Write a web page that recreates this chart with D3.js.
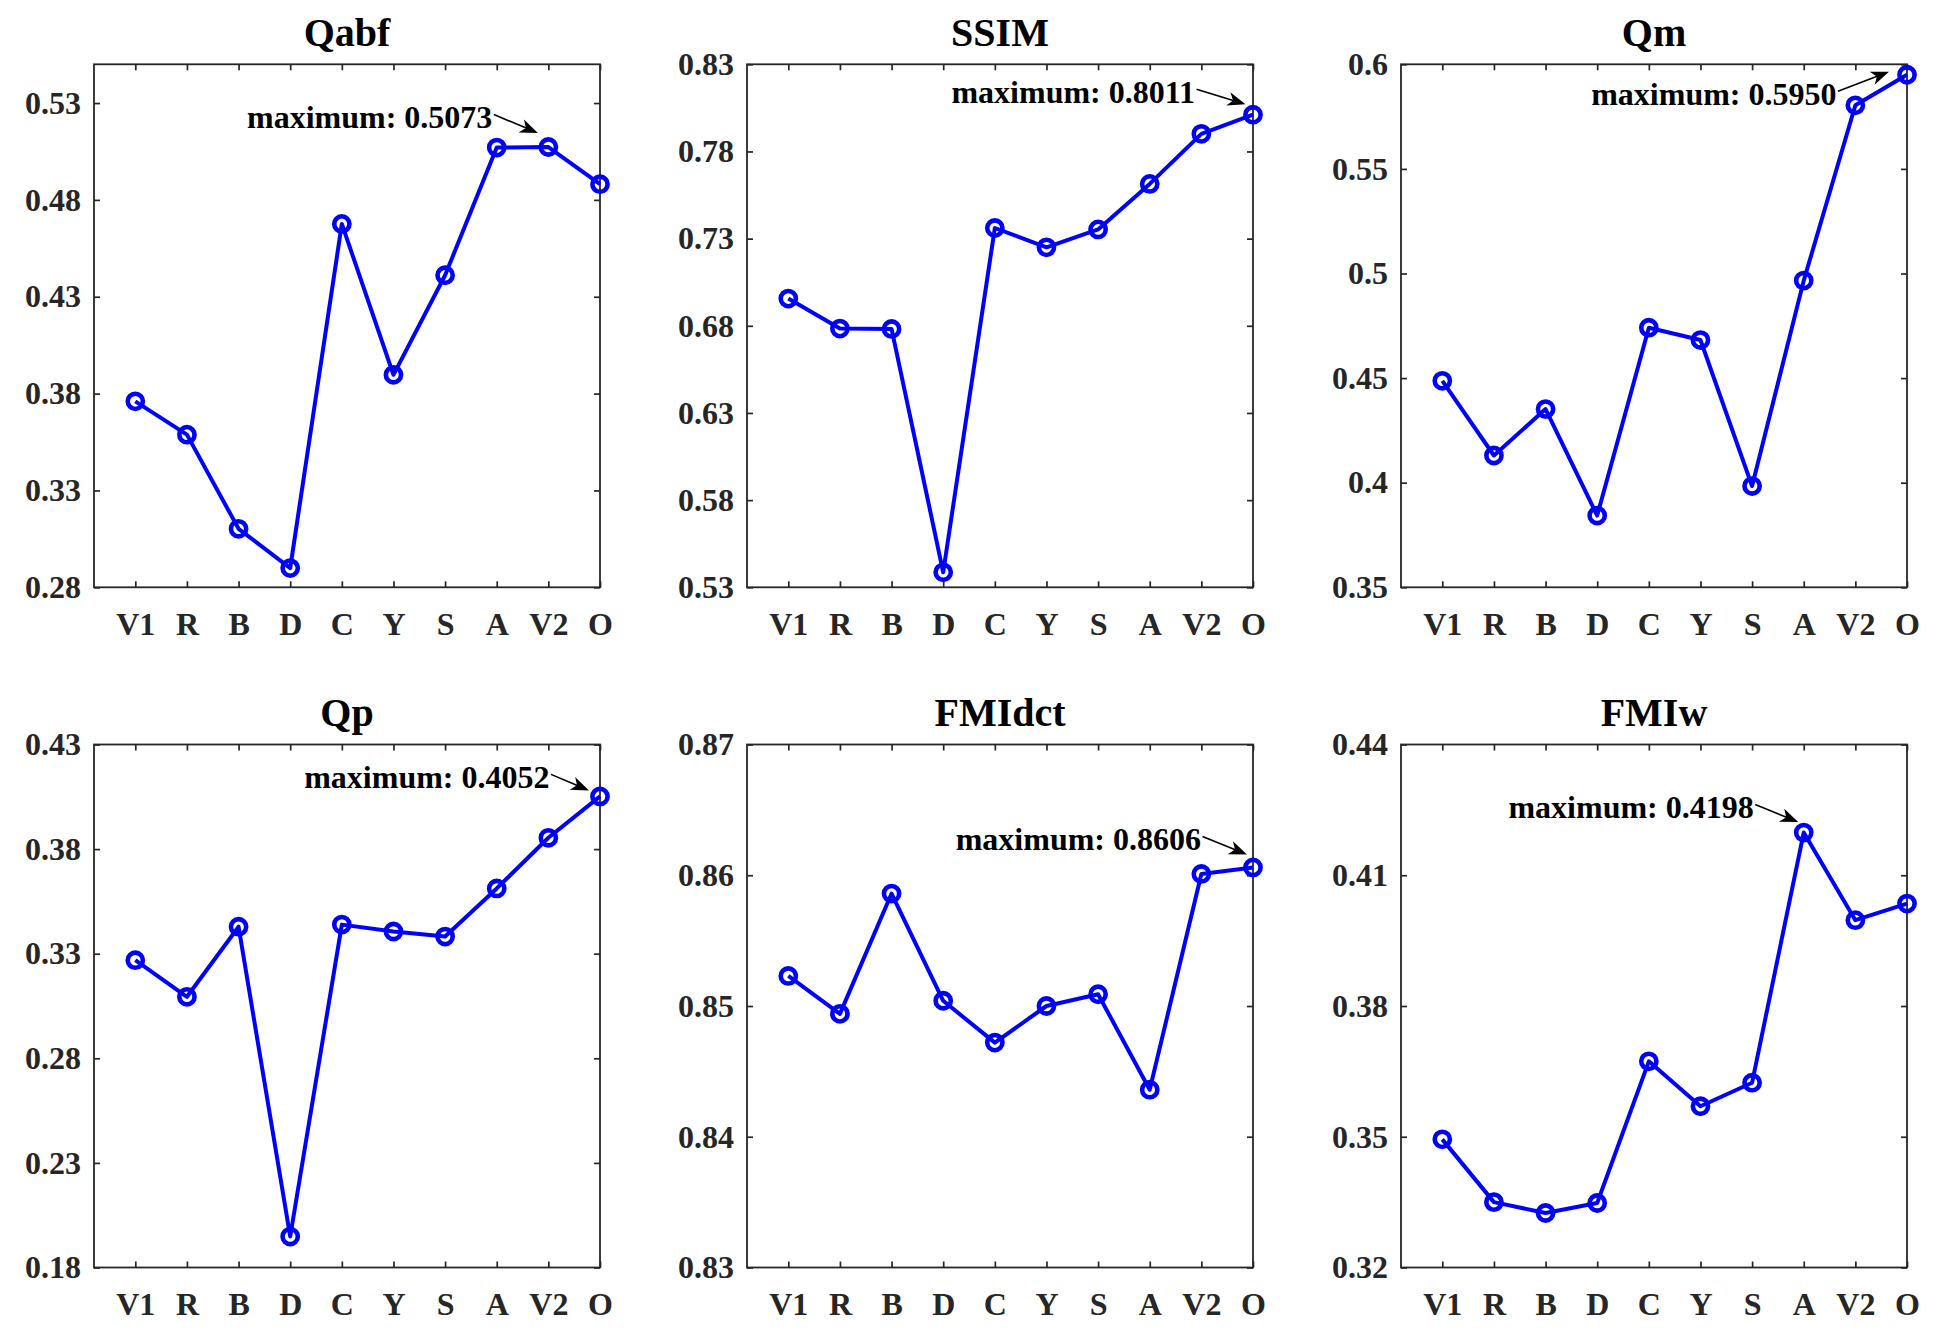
<!DOCTYPE html>
<html>
<head>
<meta charset="utf-8">
<script src="https://cdn.jsdelivr.net/npm/d3@7"></script>
<style>
  body { margin: 0; background: #fff; }
  text { font-family: "Liberation Serif", "Times New Roman", serif; font-weight: bold; }
</style>
</head>
<body>
<script>
var w = 1950;
var h = 1343;

//categories on the x axis
var methods = ["V1", "R", "B", "D", "C", "Y", "S", "A", "V2", "O"];

//metric values, one array per panel
var qabf   = [0.3760, 0.3588, 0.3102, 0.2899, 0.4676, 0.3897, 0.4411, 0.5070, 0.5073, 0.4881];
var ssim   = [0.6956, 0.6784, 0.6782, 0.5386, 0.7361, 0.7250, 0.7353, 0.7614, 0.7901, 0.8011];
var qm     = [0.4487, 0.4130, 0.4352, 0.3843, 0.4741, 0.4682, 0.3984, 0.4966, 0.5804, 0.5950];
var qp     = [0.3269, 0.3094, 0.3429, 0.1948, 0.3439, 0.3406, 0.3382, 0.3612, 0.3854, 0.4052];
var fmidct = [0.8523, 0.8494, 0.8586, 0.8504, 0.8472, 0.8500, 0.8509, 0.8436, 0.8601, 0.8606];
var fmiw   = [0.3494, 0.3350, 0.3325, 0.3348, 0.3673, 0.3570, 0.3624, 0.4198, 0.3997, 0.4035];

//y tick labels per panel
var qabfTicks   = [0.28, 0.33, 0.38, 0.43, 0.48, 0.53];
var ssimTicks   = [0.53, 0.58, 0.63, 0.68, 0.73, 0.78, 0.83];
var qmTicks     = [0.35, 0.4, 0.45, 0.5, 0.55, 0.6];
var qpTicks     = [0.18, 0.23, 0.28, 0.33, 0.38, 0.43];
var fmidctTicks = [0.83, 0.84, 0.85, 0.86, 0.87];
var fmiwTicks   = [0.32, 0.35, 0.38, 0.41, 0.44];

//panel setup: title, values, ticks, y limits, annotation offsets (px from max point)
var panels = [
  {title: "Qabf",   values: qabf,   ticks: qabfTicks,   ylim: [0.28, 0.55], col: 0, row: 0, txt: [-56, -19], tip: [-10.5, -14]},
  {title: "SSIM",   values: ssim,   ticks: ssimTicks,   ylim: [0.53, 0.83], col: 1, row: 0, txt: [-58, -12], tip: [-7.5, -10.5]},
  {title: "Qm",     values: qm,     ticks: qmTicks,     ylim: [0.35, 0.6],  col: 2, row: 0, txt: [-70.5, 30], tip: [-18, -3]},
  {title: "Qp",     values: qp,     ticks: qpTicks,     ylim: [0.18, 0.43], col: 0, row: 1, txt: [-50.5, -8.5], tip: [-11, -6]},
  {title: "FMIdct", values: fmidct, ticks: fmidctTicks, ylim: [0.83, 0.87], col: 1, row: 1, txt: [-52, -17.5], tip: [-6, -13]},
  {title: "FMIw",   values: fmiw,   ticks: fmiwTicks,   ylim: [0.32, 0.44], col: 2, row: 1, txt: [-50, -14.5], tip: [-5.5, -10.5]}
];

var colLeft = [94, 747, 1401];
var rowTop = [64.3, 744.5];
var pw = 506;
var ph = 523;
var axisColor = "#262626";
var fmt4 = d3.format(".4f");

//Create SVG element
var svg = d3.select("body")
            .append("svg")
            .attr("width", w)
            .attr("height", h);

svg.append("rect")
   .attr("width", w)
   .attr("height", h)
   .attr("fill", "#fff");

panels.forEach(function(p) {
  var left = colLeft[p.col];
  var top = rowTop[p.row];

  var x = d3.scaleLinear().domain([0.2, 10]).range([left, left + pw]);
  var y = d3.scaleLinear().domain(p.ylim).range([top + ph, top]);
  var idx = d3.range(1, methods.length + 1);

  var g = svg.append("g");

  //title
  g.append("text")
   .attr("x", left + pw / 2)
   .attr("y", top - 18.5)
   .attr("text-anchor", "middle")
   .style("font-size", "40px")
   .attr("fill", "#000")
   .text(p.title);

  //axes with inward ticks on all four sides
  var yAxis = g.append("g")
               .attr("transform", "translate(" + left + ",0)")
               .call(d3.axisLeft(y).tickValues(p.ticks).tickSize(-6).tickSizeOuter(0)
                       .tickPadding(13).tickFormat(d3.format("~g")));
  var yAxisR = g.append("g")
                .attr("transform", "translate(" + (left + pw) + ",0)")
                .call(d3.axisRight(y).tickValues(p.ticks).tickSize(-6).tickSizeOuter(0).tickFormat(""));
  var xAxis = g.append("g")
               .attr("transform", "translate(0," + (top + ph) + ")")
               .call(d3.axisBottom(x).tickValues(idx).tickSize(-6).tickSizeOuter(0)
                       .tickPadding(25).tickFormat(function(d) { return methods[d - 1]; }));
  var xAxisT = g.append("g")
                .attr("transform", "translate(0," + top + ")")
                .call(d3.axisTop(x).tickValues(idx).tickSize(-6).tickSizeOuter(0).tickFormat(""));

  [yAxis, yAxisR, xAxis, xAxisT].forEach(function(a) {
    a.select(".domain").remove();
    a.selectAll(".tick line").attr("stroke", axisColor).attr("stroke-width", 1.7);
    a.selectAll(".tick text").attr("fill", axisColor).style("font-size", "32px");
  });

  //box
  g.append("rect")
   .attr("x", left)
   .attr("y", top)
   .attr("width", pw)
   .attr("height", ph)
   .attr("fill", "none")
   .attr("stroke", axisColor)
   .attr("stroke-width", 1.8);

  //line
  var line = d3.line()
               .x(function(d, i) { return x(i + 1); })
               .y(function(d) { return y(d); });

  g.append("path")
   .datum(p.values)
   .attr("d", line)
   .attr("fill", "none")
   .attr("stroke", "#0000ff")
   .attr("stroke-width", 4)
   .attr("stroke-linejoin", "round");

  //circle markers
  g.selectAll("circle")
   .data(p.values)
   .enter()
   .append("circle")
   .attr("cx", function(d, i) { return x(i + 1); })
   .attr("cy", function(d) { return y(d); })
   .attr("r", 7.6)
   .attr("fill", "none")
   .attr("stroke", "#0000ff")
   .attr("stroke-width", 4.6);

  //maximum annotation
  var mi = d3.maxIndex(p.values);
  var mx = x(mi + 1);
  var my = y(p.values[mi]);
  var tx = mx + p.txt[0];
  var ty = my + p.txt[1];

  g.append("text")
   .attr("x", tx)
   .attr("y", ty)
   .attr("text-anchor", "end")
   .style("font-size", "32px")
   .attr("fill", "#000")
   .text("maximum: " + fmt4(p.values[mi]));

  var x0 = tx + 1.5, y0 = ty - 13.5;
  var x1 = mx + p.tip[0], y1 = my + p.tip[1];
  var ang = Math.atan2(y1 - y0, x1 - x0);
  var hl = 18, hw = 7;
  function pt(a, b) {
    return [x1 + a * Math.cos(ang) - b * Math.sin(ang), y1 + a * Math.sin(ang) + b * Math.cos(ang)];
  }

  g.append("line")
   .attr("x1", x0)
   .attr("y1", y0)
   .attr("x2", x1 - 12 * Math.cos(ang))
   .attr("y2", y1 - 12 * Math.sin(ang))
   .attr("stroke", "#000")
   .attr("stroke-width", 1.6);

  g.append("polygon")
   .attr("points", [pt(0, 0), pt(-hl, -hw), pt(-hl * 0.72, 0), pt(-hl, hw)].map(function(q) { return q.join(","); }).join(" "))
   .attr("fill", "#000");
});
</script>
</body>
</html>
